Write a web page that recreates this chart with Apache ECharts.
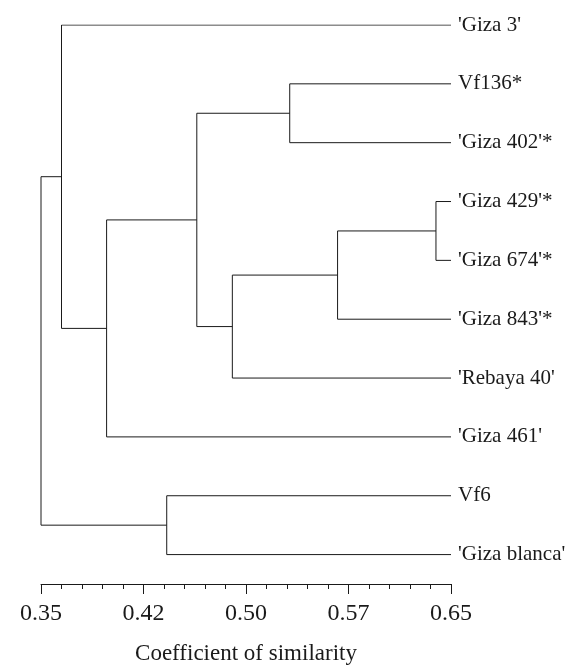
<!DOCTYPE html>
<html>
<head>
<meta charset="utf-8">
<script src="https://cdn.jsdelivr.net/npm/echarts@6/dist/echarts.min.js"></script>
<style>html,body{margin:0;padding:0;background:#fff}#c{width:570px;height:666px}</style>
</head>
<body>
<div id="c"></div>
<script>
// Leaves (top to bottom)
const leaves = ["'Giza 3'", "Vf136*", "'Giza 402'*", "'Giza 429'*", "'Giza 674'*", "'Giza 843'*", "'Rebaya 40'", "'Giza 461'", "Vf6", "'Giza blanca'"];
// Merges: child indices (<10 leaf, >=10 earlier merge) and similarity level
const mergeLeft  = [3, 1, 10, 12, 11, 8, 14, 0, 17];
const mergeRight = [4, 2, 5, 6, 13, 9, 7, 16, 15];
const mergeLevel = [0.639, 0.532, 0.567, 0.490, 0.464, 0.442, 0.398, 0.365, 0.350];
const leafLevel = 0.65;
// Axis ticks
const axisMin = 0.35, axisStep = 0.075;
const xTickLabels = ['0.35', '0.42', '0.50', '0.57', '0.65'];

const toX = s => (s - axisMin) / axisStep;
const nodeX = [], nodeY = [];
leaves.forEach((l, i) => { nodeX.push(leafLevel); nodeY.push(i); });
const series = [];
mergeLeft.forEach((a, k) => {
  const b = mergeRight[k], h = mergeLevel[k];
  series.push({
    type: 'line', symbol: 'none', animation: false, silent: true,
    lineStyle: { color: '#1a1a1a', width: 1 },
    data: [[toX(nodeX[a]), nodeY[a]], [toX(h), nodeY[a]], [toX(h), nodeY[b]], [toX(nodeX[b]), nodeY[b]]]
  });
  nodeX.push(h); nodeY.push((nodeY[a] + nodeY[b]) / 2);
});

const font = 'Liberation Serif';
const chart = echarts.init(document.getElementById('c'));
chart.setOption({
  backgroundColor: '#fff',
  animation: false,
  grid: { left: 41, right: 119, top: 25, bottom: 82, containLabel: false, outerBoundsMode: 'none' },
  xAxis: {
    type: 'value', min: 0, max: 4, interval: 1, position: 'bottom',
    name: 'Coefficient of similarity', nameLocation: 'middle', nameGap: 58,
    nameTextStyle: { fontFamily: font, fontSize: 23, color: '#1a1a1a' },
    axisLine: { show: true, onZero: false, lineStyle: { color: '#1a1a1a', width: 1 } },
    axisTick: { show: true, length: 10, lineStyle: { color: '#1a1a1a', width: 1 } },
    minorTick: { show: true, splitNumber: 5, length: 5, lineStyle: { color: '#1a1a1a', width: 1 } },
    splitLine: { show: false },
    axisLabel: { margin: 18, fontFamily: font, fontSize: 24, color: '#1a1a1a',
      formatter: v => xTickLabels[Math.round(v)] }
  },
  yAxis: {
    type: 'value', min: 0, max: 9.5, interval: 1, inverse: true, position: 'right',
    axisLine: { show: false }, axisTick: { show: false }, splitLine: { show: false },
    axisLabel: { margin: 7, fontFamily: font, fontSize: 21, color: '#1a1a1a',
      formatter: v => (Number.isInteger(v) && leaves[v] !== undefined) ? leaves[v] : '' }
  },
  series: series
});
</script>
</body>
</html>
